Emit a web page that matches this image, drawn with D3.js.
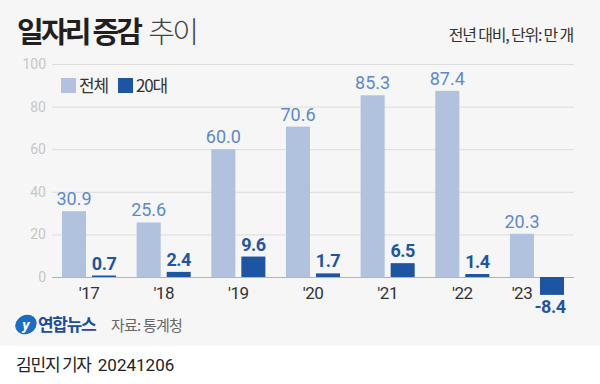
<!DOCTYPE html>
<html>
<head>
<meta charset="utf-8">
<script src="https://cdn.jsdelivr.net/npm/d3@7"></script>
<style>
  html, body { margin: 0; padding: 0; background: #fff; }
  svg text { font-family: "Noto Sans CJK KR", "Noto Sans", sans-serif; }
  .num { font-family: Roboto, "Liberation Sans", sans-serif; }
</style>
</head>
<body>
<div id="chart"></div>
<script>
// 일자리 증감 추이 (전년 대비, 단위: 만 개)
const years = ["'17", "'18", "'19", "'20", "'21", "'22", "'23"];
const seriesNames = ["전체", "20대"];
const totalValues = [30.9, 25.6, 60.0, 70.6, 85.3, 87.4, 20.3];
const twentiesValues = [0.7, 2.4, 9.6, 1.7, 6.5, 1.4, -8.4];
const yTicks = [0, 20, 40, 60, 80, 100];

const colours = { "전체": "#b0c2dd", "20대": "#1d55a2" };
const labelColours = { "전체": "#5c89cc", "20대": "#1d55a2" };

function graph(id) {
	let width = 600, height = 384;
	let svg = d3.select(id).append("svg")
		.attr("width", width)
		.attr("height", height);

	// backgrounds
	svg.append("rect").attr("x", 0).attr("y", 0).attr("width", width).attr("height", 346).attr("fill", "#f6f6f6");
	svg.append("rect").attr("x", 0).attr("y", 346).attr("width", width).attr("height", height - 346).attr("fill", "#ffffff");

	let data = years.map((y, i) => ({ year: y, "전체": totalValues[i], "20대": twentiesValues[i] }));

	let x = d3.scaleBand()
		.domain(years)
		.range([52, 574])
		.paddingInner(0.276)
		.paddingOuter(0.134);
	let xSub = d3.scaleBand()
		.domain(seriesNames)
		.range([0, x.bandwidth()])
		.paddingInner(0.2);
	let y = d3.scaleLinear()
		.domain([0, 100])
		.range([277, 64]);

	// gridlines + y labels
	let yAxis = d3.axisLeft(y).tickValues(yTicks).tickSize(-(574 - 52)).tickPadding(6).tickFormat(d3.format("d"));
	let gy = svg.append("g").attr("transform", "translate(52,0)").call(yAxis);
	gy.select(".domain").remove();
	gy.selectAll(".tick line").attr("stroke", (d) => d === 0 ? "#b4b4b4" : "#dcdcdc").attr("stroke-width", 1);
	gy.selectAll(".tick text")
		.attr("class", "num")
		.attr("fill", "#c6c6c6")
		.style("font-size", "14px")
		.attr("x", -6);

	// bars
	let groups = svg.append("g").selectAll("g")
		.data(data).enter()
		.append("g")
		.attr("transform", (d) => `translate(${x(d.year)},0)`);

	groups.selectAll("rect")
		.data((d) => seriesNames.map((k) => ({ key: k, value: d[k] })))
		.enter()
		.append("rect")
		.attr("x", (d) => xSub(d.key))
		.attr("width", xSub.bandwidth())
		.attr("y", (d) => y(Math.max(0, d.value)))
		.attr("height", (d) => Math.abs(y(d.value) - y(0)))
		.attr("fill", (d) => colours[d.key]);

	groups.selectAll("text.val")
		.data((d) => seriesNames.map((k) => ({ key: k, value: d[k] })))
		.enter()
		.append("text")
		.attr("class", "num")
		.attr("x", (d) => xSub(d.key) + xSub.bandwidth() / 2 - (d.value < 0 ? 2 : 0))
		.attr("y", (d) => d.value >= 0 ? y(d.value) - 6 : y(d.value) + 18)
		.attr("text-anchor", "middle")
		.attr("fill", (d) => labelColours[d.key])
		.style("font-size", "18px")
		.style("font-weight", (d) => d.key === "20대" ? "700" : "400")
		.style("letter-spacing", (d) => d.key === "20대" ? "-0.5px" : "0px")
		.text((d) => d.value.toFixed(1));

	// x labels (shifted under the 전체 bar when the 20대 bar goes below zero)
	groups.append("text")
		.attr("class", "num")
		.attr("x", (d) => d["20대"] < 0 ? xSub("전체") + xSub.bandwidth() / 2 : x.bandwidth() / 2)
		.attr("y", 299)
		.attr("text-anchor", "middle")
		.attr("fill", "#333")
		.style("font-size", "17px")
		.style("letter-spacing", "-0.5px")
		.text((d) => d.year);

	// legend
	let legend = svg.append("g");
	let legendX = [61, 118];
	seriesNames.forEach((k, i) => {
		legend.append("rect").attr("x", legendX[i]).attr("y", 78).attr("width", 15).attr("height", 15).attr("fill", colours[k]);
		legend.append("text").attr("x", legendX[i] + 18).attr("y", 91.5)
			.attr("fill", "#333").style("font-size", "17px").style("letter-spacing", "-1.2px")
			.text(k);
	});

	// title
	let title = svg.append("text").attr("x", 17).attr("y", 43).style("font-size", "29px");
	title.append("tspan").attr("fill", "#231f20").style("font-weight", "700").style("letter-spacing", "-2.8px").text("일자리 증감");
	title.append("tspan").attr("fill", "#444").attr("dx", 8).style("font-weight", "300").style("letter-spacing", "-2.5px").text("추이");

	svg.append("text").attr("x", 573).attr("y", 41).attr("text-anchor", "end")
		.attr("fill", "#333").style("font-size", "16px").style("letter-spacing", "-1.2px")
		.text("전년 대비, 단위: 만 개");

	// footer
	svg.append("ellipse").attr("cx", 26).attr("cy", 324.5).attr("rx", 11).attr("ry", 9.5)
		.attr("transform", "rotate(-25,26,324.5)").attr("fill", "#1c6cc6");
	svg.append("text").attr("x", 26).attr("y", 330).attr("text-anchor", "middle")
		.attr("fill", "#ffffff").style("font-size", "15px").style("font-style", "italic").style("font-weight", "700")
		.attr("class", "num").text("y");
	svg.append("text").attr("x", 38).attr("y", 331)
		.attr("fill", "#1a4c9c").style("font-size", "17px").style("font-weight", "700").style("letter-spacing", "-1.3px")
		.text("연합뉴스");
	svg.append("text").attr("x", 111).attr("y", 331)
		.attr("fill", "#666").style("font-size", "15px").style("letter-spacing", "-0.8px")
		.text("자료: 통계청");

	let byline = svg.append("text").attr("x", 16).attr("y", 371).attr("fill", "#222").style("font-size", "17px");
	byline.append("tspan").style("letter-spacing", "-1.2px").text("김민지 기자");
	byline.append("tspan").attr("class", "num").attr("dx", 7).text("20241206");
}

graph("#chart");
</script>
</body>
</html>
